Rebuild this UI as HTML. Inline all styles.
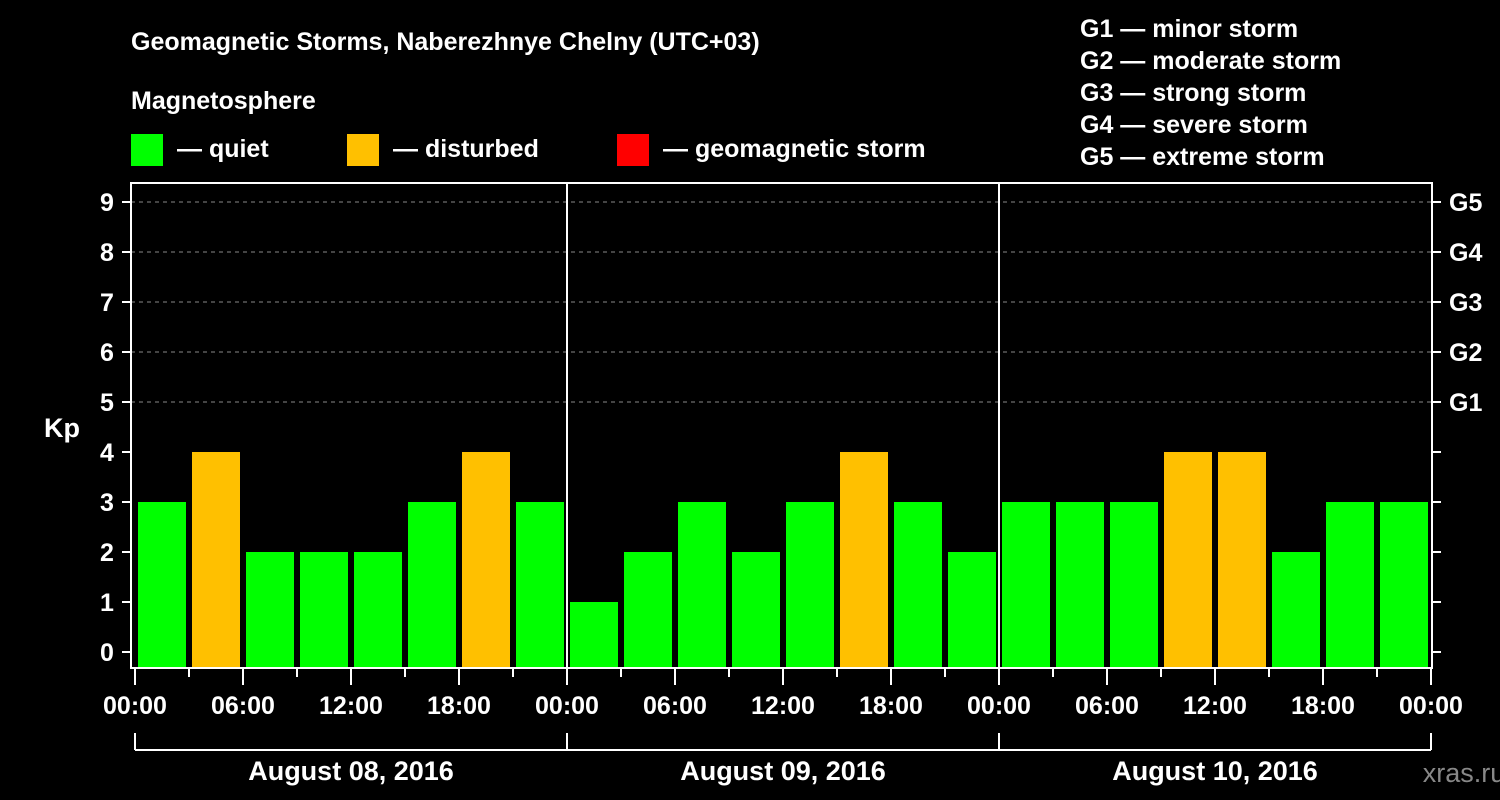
<!DOCTYPE html>
<html><head><meta charset="utf-8"><style>
body{margin:0;background:#000;}
svg{display:block;font-family:"Liberation Sans",Arial,sans-serif;font-weight:bold;}
</style></head><body>
<svg id="chart" width="1500" height="800" viewBox="0 0 1500 800">
<rect width="1500" height="800" fill="#000"/>
<text x="131" y="50" fill="#fff" font-size="25">Geomagnetic Storms, Naberezhnye Chelny (UTC+03)</text>
<text x="131" y="109" fill="#fff" font-size="25">Magnetosphere</text>
<g><rect x="131" y="134" width="32" height="32" fill="#00ff00"/><text x="177" y="157" fill="#fff" font-size="25">— quiet</text></g>
<g><rect x="347" y="134" width="32" height="32" fill="#ffc000"/><text x="393" y="157" fill="#fff" font-size="25">— disturbed</text></g>
<g><rect x="617" y="134" width="32" height="32" fill="#ff0000"/><text x="663" y="157" fill="#fff" font-size="25">— geomagnetic storm</text></g>
<g fill="#fff" font-size="25">
<text x="1080" y="37">G1 — minor storm</text>
<text x="1080" y="69">G2 — moderate storm</text>
<text x="1080" y="101">G3 — strong storm</text>
<text x="1080" y="133">G4 — severe storm</text>
<text x="1080" y="165">G5 — extreme storm</text>
</g>
<text x="62" y="437" fill="#fff" font-size="27" text-anchor="middle">Kp</text>
<text x="1464" y="782" fill="#888" font-size="27" text-anchor="middle" font-weight="normal">xras.ru</text>
<g id="grid"></g><g id="bars"></g><g id="axes"></g>
</svg>
<script>
const kpValues = [3,4,2,2,2,3,4,3, 1,2,3,2,3,4,3,2, 3,3,3,4,4,2,3,3];
const yTicks = [0,1,2,3,4,5,6,7,8,9];
const gLabels = ["G1","G2","G3","G4","G5"];
const timeLabels = ["00:00","06:00","12:00","18:00"];
const dayLabels = ["August 08, 2016","August 09, 2016","August 10, 2016"];
const NS="http://www.w3.org/2000/svg";
const L=131,R=1432,T=183,B=668,X0=135,slot=54;
const y=v=>652-v*50;
const x=i=>X0+i*slot;
function mk(tag,attrs,parent,text){const e=document.createElementNS(NS,tag);for(const k in attrs)e.setAttribute(k,attrs[k]);if(text!==undefined)e.textContent=text;parent.appendChild(e);return e;}
const grid=document.getElementById('grid'),bars=document.getElementById('bars'),axes=document.getElementById('axes');
for(let v=5;v<=9;v++){const e=mk('line',{x1:L,x2:R,y1:y(v),y2:y(v),stroke:'#888','stroke-width':1,'stroke-dasharray':'4,4'},grid);

}
kpValues.forEach((v,i)=>{const c=v>=5?'#ff0000':(v>=4?'#ffc000':'#00ff00');
const r=mk('rect',{x:x(i)+3,y:y(v),width:48,height:B-1-y(v),fill:c},bars);

});
// day separators
for(let d=1;d<3;d++){const e=mk('line',{x1:x(d*8),x2:x(d*8),y1:T,y2:B,stroke:'#fff','stroke-width':2},axes);

}
const frame=mk('rect',{x:L,y:T,width:R-L,height:B-T,fill:'none',stroke:'#fff','stroke-width':2},axes);


yTicks.forEach(v=>{mk('line',{x1:122,x2:L,y1:y(v),y2:y(v),stroke:'#fff','stroke-width':2},axes);
mk('line',{x1:R,x2:1441,y1:y(v),y2:y(v),stroke:'#fff','stroke-width':2},axes);
const t=mk('text',{x:107,y:y(v)+9,fill:'#fff','font-size':25,'text-anchor':'middle'},axes,String(v));

});
gLabels.forEach((g,i)=>{const t=mk('text',{x:1449,y:y(5+i)+9,fill:'#fff','font-size':25},axes,g);

});
for(let i=0;i<=24;i++){const major=i%2===0;
mk('line',{x1:x(i),x2:x(i),y1:B,y2:B+(major?17:9),stroke:'#fff','stroke-width':2},axes);
if(major){const t=mk('text',{x:x(i),y:714,fill:'#fff','font-size':25,'text-anchor':'middle'},axes,timeLabels[(i/2)%4]);

}}
mk('line',{x1:x(0),x2:x(24),y1:750,y2:750,stroke:'#fff','stroke-width':2},axes);
for(let d=0;d<=3;d++)mk('line',{x1:x(d*8),x2:x(d*8),y1:733,y2:750,stroke:'#fff','stroke-width':2},axes);
dayLabels.forEach((s,d)=>{const t=mk('text',{x:x(d*8+4),y:780,fill:'#fff','font-size':27,'text-anchor':'middle'},axes,s);

});
</script>
</body></html>
